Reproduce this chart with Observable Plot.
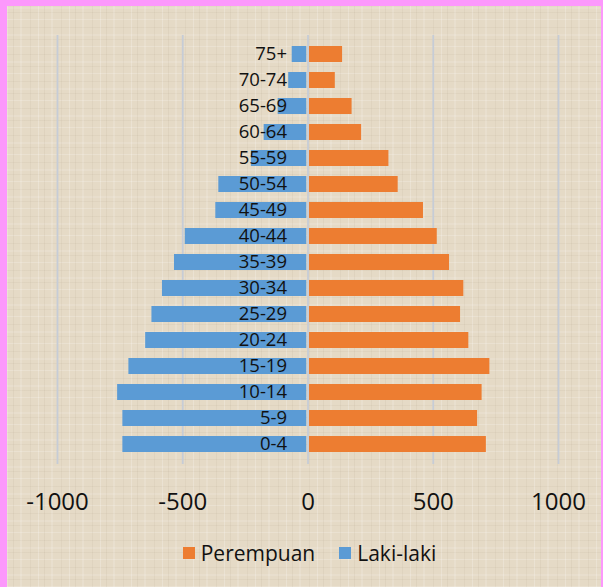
<!DOCTYPE html>
<html>
<head>
<meta charset="utf-8">
<script src="https://cdn.jsdelivr.net/npm/d3@7"></script>
<script src="https://cdn.jsdelivr.net/npm/@observablehq/plot@0.6"></script>
<style>
  html, body { margin: 0; padding: 0; }
  #frame {
    position: relative; width: 603px; height: 587px; background: #FC98FC; overflow: hidden;
    font-family: "Open Sans", sans-serif;
  }
  #paper {
    position: absolute; left: 7px; top: 6px; right: 2px; bottom: 0;
    background-color: #E5DAC6;
    background-image:
      repeating-linear-gradient(90deg, rgba(255,255,255,0.22) 0 1px, transparent 1px 6px, rgba(110,90,60,0.06) 6px 7px, transparent 7px 13px, rgba(255,255,255,0.14) 13px 15px, transparent 15px 23px, rgba(110,90,60,0.05) 23px 24px, transparent 24px 31px),
      repeating-linear-gradient(0deg, rgba(255,255,255,0.2) 0 1px, transparent 1px 7px, rgba(110,90,60,0.05) 7px 8px, transparent 8px 11px, rgba(255,255,255,0.12) 11px 13px, transparent 13px 19px, rgba(110,90,60,0.05) 19px 20px, transparent 20px 27px);
  }
  #chart { position: absolute; left: 0; top: 0; }
  #legend {
    position: absolute; left: 16px; width: 587px; top: 541px; height: 24px;
    display: flex; justify-content: center; align-items: center; font-size: 21px; color: #111;
  }
  .sw { display: inline-block; width: 12px; height: 12px; margin-right: 6px; }
  .item { display: flex; align-items: center; }
</style>
</head>
<body>
<div id="frame">
  <div id="paper"></div>
  <div id="chart"></div>
  <div id="legend"></div>
</div>
<script>
const ageGroups = ["0-4","5-9","10-14","15-19","20-24","25-29","30-34","35-39","40-44","45-49","50-54","55-59","60-64","65-69","70-74","75+"];
const lakiLaki  = [739, 739, 760, 715, 648, 623, 581, 533, 490, 368, 356, 226, 175, 119, 77, 63];
const perempuan = [712, 677, 695, 726, 642, 609, 622, 565, 516, 461, 360, 323, 214, 176, 109, 138];
const xTicks = [-1000, -500, 0, 500, 1000];
const seriesNames = ["Perempuan", "Laki-laki"];
const seriesColors = ["#ED7D31", "#5B9BD5"];

const rows = ageGroups.map((a, i) => ({age: a, laki: -lakiLaki[i], perempuan: perempuan[i]}));

const chart = Plot.plot({
  width: 603,
  height: 520,
  marginTop: 35,
  marginBottom: 56,
  marginLeft: 57,
  marginRight: 45,
  style: {background: "transparent", fontFamily: "Open Sans, sans-serif", color: "#111"},
  x: {domain: [-1000, 1000], ticks: xTicks, tickFormat: d => String(d)},
  y: {domain: ageGroups.slice().reverse(), paddingInner: 0.38, paddingOuter: 0.19, axis: null},
  marks: [
    Plot.ruleX(xTicks, {stroke: "#C6CCD6", strokeWidth: 1.8}),
    Plot.barX(rows, {x1: "laki", x2: 0, y: "age", fill: seriesColors[1], insetRight: 1.2}),
    Plot.barX(rows, {x1: 0, x2: "perempuan", y: "age", fill: seriesColors[0], insetLeft: 1.5}),
    Plot.text(rows, {x: 0, y: "age", text: "age", dx: -21, textAnchor: "end", fontSize: 18.5, fill: "#111"}),
    Plot.axisX({ticks: xTicks, tickFormat: d => String(d), tickSize: 0, tickPadding: 28, fontSize: 24, fill: "#111"})
  ]
});
document.getElementById("chart").appendChild(chart);

const legend = document.getElementById("legend");
seriesNames.forEach((name, i) => {
  const item = document.createElement("div");
  item.className = "item";
  if (i > 0) item.style.marginLeft = "24px";
  const sw = document.createElement("span");
  sw.className = "sw";
  sw.style.background = seriesColors[i];
  item.appendChild(sw);
  item.appendChild(document.createTextNode(name));
  legend.appendChild(item);
});
</script>
</body>
</html>
